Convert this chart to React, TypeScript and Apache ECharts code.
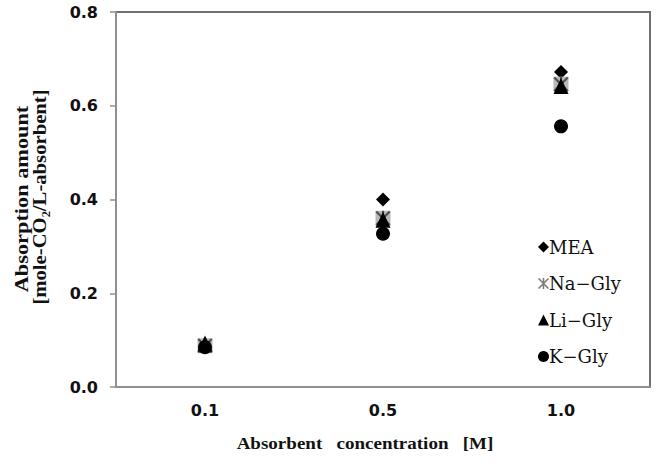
import React, { useEffect, useRef } from "react";
import * as echarts from "echarts";

const categories = ["0.1", "0.5", "1.0"];
const meaValues = [0.092, 0.4, 0.672];
const naGlyValues = [0.088, 0.36, 0.646];
const liGlyValues = [0.093, 0.357, 0.642];
const kGlyValues = [0.085, 0.327, 0.556];
const seriesNames = ["MEA", "Na\u2212Gly", "Li\u2212Gly", "K\u2212Gly"];

const xPath = "path://M0,1L1,0L10,9L9,10Z M9,0L10,1L1,10L0,9Z M4.3,0H5.7V10H4.3Z";

export default function App() {
  const ref = useRef<HTMLDivElement>(null);
  useEffect(() => {
    if (!ref.current) return;
    const chart = echarts.init(ref.current, undefined, { renderer: "svg" });
    const tickFont = {
      fontFamily: "DejaVu Sans",
      fontWeight: "bold" as const,
      fontSize: 16,
      color: "#111",
    };
    const titleStyle = {
      fontFamily: "Liberation Serif",
      fontWeight: "bold" as const,
      fontSize: 18,
      fill: "#111",
      align: "center" as const,
      verticalAlign: "middle" as const,
    };
    chart.setOption({
      animation: false,
      backgroundColor: "#ffffff",
      grid: {
        left: 116,
        right: 10,
        top: 12,
        bottom: 77,
        show: true,
        borderColor: "#707070",
        borderWidth: 2,
      },
      legend: {
        orient: "vertical",
        left: 533,
        top: 233,
        itemGap: 18.5,
        itemWidth: 11,
        itemHeight: 11,
        textStyle: {
          fontFamily: "DejaVu Serif",
          fontSize: 18,
          color: "#111",
          padding: [0, 0, 0, -5],
        },
        data: [
          { name: seriesNames[0], icon: "diamond", itemStyle: { color: "#000", opacity: 1 } },
          { name: seriesNames[1], icon: xPath, itemStyle: { color: "#7a7a7a", opacity: 1 } },
          { name: seriesNames[2], icon: "triangle", itemStyle: { color: "#000", opacity: 1 } },
          { name: seriesNames[3], icon: "circle", itemStyle: { color: "#000", opacity: 1 } },
        ],
      },
      xAxis: {
        type: "category",
        data: categories,
        boundaryGap: true,
        axisLine: { lineStyle: { color: "#909090", width: 2 } },
        axisTick: { show: false },
        axisLabel: { ...tickFont, margin: 15 },
        splitLine: { show: false },
      },
      yAxis: {
        type: "value",
        min: 0,
        max: 0.8,
        interval: 0.2,
        axisLine: { show: true, lineStyle: { color: "#909090", width: 2 } },
        axisTick: { show: true, inside: false, length: 6, lineStyle: { color: "#909090", width: 1.5 } },
        axisLabel: {
          ...tickFont,
          margin: 18,
          formatter: (v: number) => v.toFixed(1),
        },
        splitLine: { show: false },
      },
      graphic: [
        {
          type: "text",
          x: 22,
          y: 199,
          rotation: Math.PI / 2,
          scaleX: 1.24,
          style: { ...titleStyle, text: "Absorption amount" },
        },
        {
          type: "text",
          x: 40,
          y: 197,
          rotation: Math.PI / 2,
          scaleX: 1.15,
          style: { ...titleStyle, text: "[mole-CO\u2082/L-absorbent]" },
        },
        {
          type: "text",
          x: 365,
          y: 443,
          scaleX: 1.12,
          style: { ...titleStyle, fontSize: 17, text: "Absorbent   concentration   [M]" },
        },
      ],
      series: [
        {
          name: seriesNames[0],
          type: "scatter",
          data: meaValues,
          symbol: "diamond",
          symbolSize: 14,
          itemStyle: { color: "#000", opacity: 1 },
        },
        {
          name: seriesNames[1],
          type: "scatter",
          data: naGlyValues,
          symbol: "rect",
          symbolSize: 15,
          itemStyle: { color: "#b8b8b8", opacity: 1 },
        },
        {
          name: seriesNames[1],
          type: "scatter",
          data: naGlyValues,
          symbol: xPath,
          symbolSize: 15,
          itemStyle: { color: "#505050", opacity: 1 },
        },
        {
          name: seriesNames[2],
          type: "scatter",
          data: liGlyValues,
          symbol: "triangle",
          symbolSize: [15, 16],
          itemStyle: { color: "#000", opacity: 1 },
        },
        {
          name: seriesNames[3],
          type: "scatter",
          data: kGlyValues,
          symbol: "circle",
          symbolSize: 14,
          itemStyle: { color: "#000", opacity: 1 },
        },
      ],
    });
    return () => chart.dispose();
  }, []);
  return (
    <div
      ref={ref}
      style={{ position: "absolute", left: 0, top: 0, width: 660, height: 464 }}
    />
  );
}
